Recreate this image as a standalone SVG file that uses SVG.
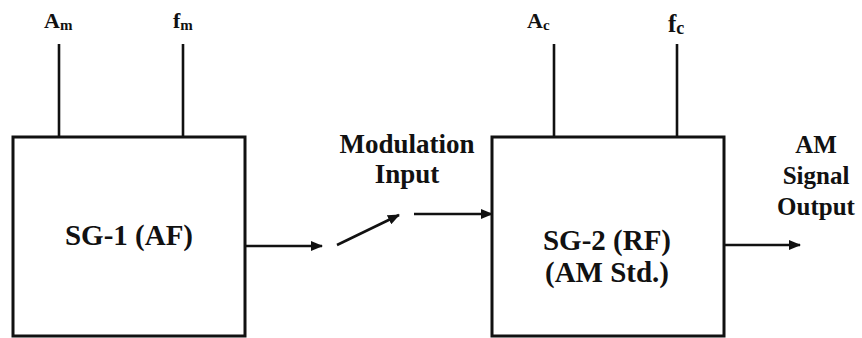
<svg xmlns="http://www.w3.org/2000/svg" width="862" height="338" viewBox="0 0 862 338">
<style>
.box{fill:#fff;stroke:#111;stroke-width:3}
.ln{stroke:#111;stroke-width:2.6;fill:none}
.t{font-family:"Liberation Serif","Times New Roman",serif;font-weight:bold;fill:#111}
.big{font-size:29px}
.mid{font-size:27px}
.rt{font-size:25px}
.lab{font-size:22px}
.sub{font-size:15px}
</style>
<defs>
<marker id="ah" viewBox="0 0 12 10" refX="11" refY="5" markerWidth="12" markerHeight="10" markerUnits="userSpaceOnUse" orient="auto">
<path d="M0,0 L12,5 L0,10 Z" fill="#111"/>
</marker>
</defs>
<g id="connectors">
<line class="ln" x1="59" y1="44" x2="59" y2="137"/>
<line class="ln" x1="183" y1="44" x2="183" y2="137"/>
<line class="ln" x1="554" y1="44" x2="554" y2="137"/>
<line class="ln" x1="677" y1="44" x2="677" y2="137"/>
<line class="ln" x1="245" y1="246" x2="322" y2="246" marker-end="url(#ah)"/>
<line class="ln" x1="337" y1="245" x2="399" y2="215" marker-end="url(#ah)"/>
<line class="ln" x1="414" y1="214" x2="492" y2="214" marker-end="url(#ah)"/>
<line class="ln" x1="724" y1="245" x2="800" y2="245" marker-end="url(#ah)"/>
</g>
<g id="sg1">
<rect class="box" x="13" y="137" width="232" height="199"/>
<text class="t big" x="129" y="245" text-anchor="middle">SG-1 (AF)</text>
</g>
<g id="sg2">
<rect class="box" x="492" y="137" width="232" height="199"/>
<text class="t big" x="607" y="250" text-anchor="middle">SG-2 (RF)</text>
<text class="t big" x="607" y="282" text-anchor="middle">(AM Std.)</text>
</g>
<g id="am-label"><text class="t"><tspan class="lab" x="44" y="28">A</tspan><tspan class="sub" dy="2">m</tspan></text></g>
<g id="fm-label"><text class="t"><tspan class="lab" x="173" y="28">f</tspan><tspan class="sub" dy="2">m</tspan></text></g>
<g id="ac-label"><text class="t"><tspan class="lab" x="527" y="28">A</tspan><tspan class="sub" dy="2">c</tspan></text></g>
<g id="fc-label"><text class="t"><tspan class="lab" x="668" y="32" style="font-size:25px">f</tspan><tspan class="sub" dy="2" style="font-size:18px">c</tspan></text></g>
<g id="modulation-input">
<text class="t mid" x="407" y="153" text-anchor="middle">Modulation</text>
<text class="t mid" x="407" y="183" text-anchor="middle">Input</text>
</g>
<g id="am-output">
<text class="t rt" x="816" y="153" text-anchor="middle">AM</text>
<text class="t rt" x="816" y="184" text-anchor="middle">Signal</text>
<text class="t rt" x="816" y="215" text-anchor="middle">Output</text>
</g>
</svg>
